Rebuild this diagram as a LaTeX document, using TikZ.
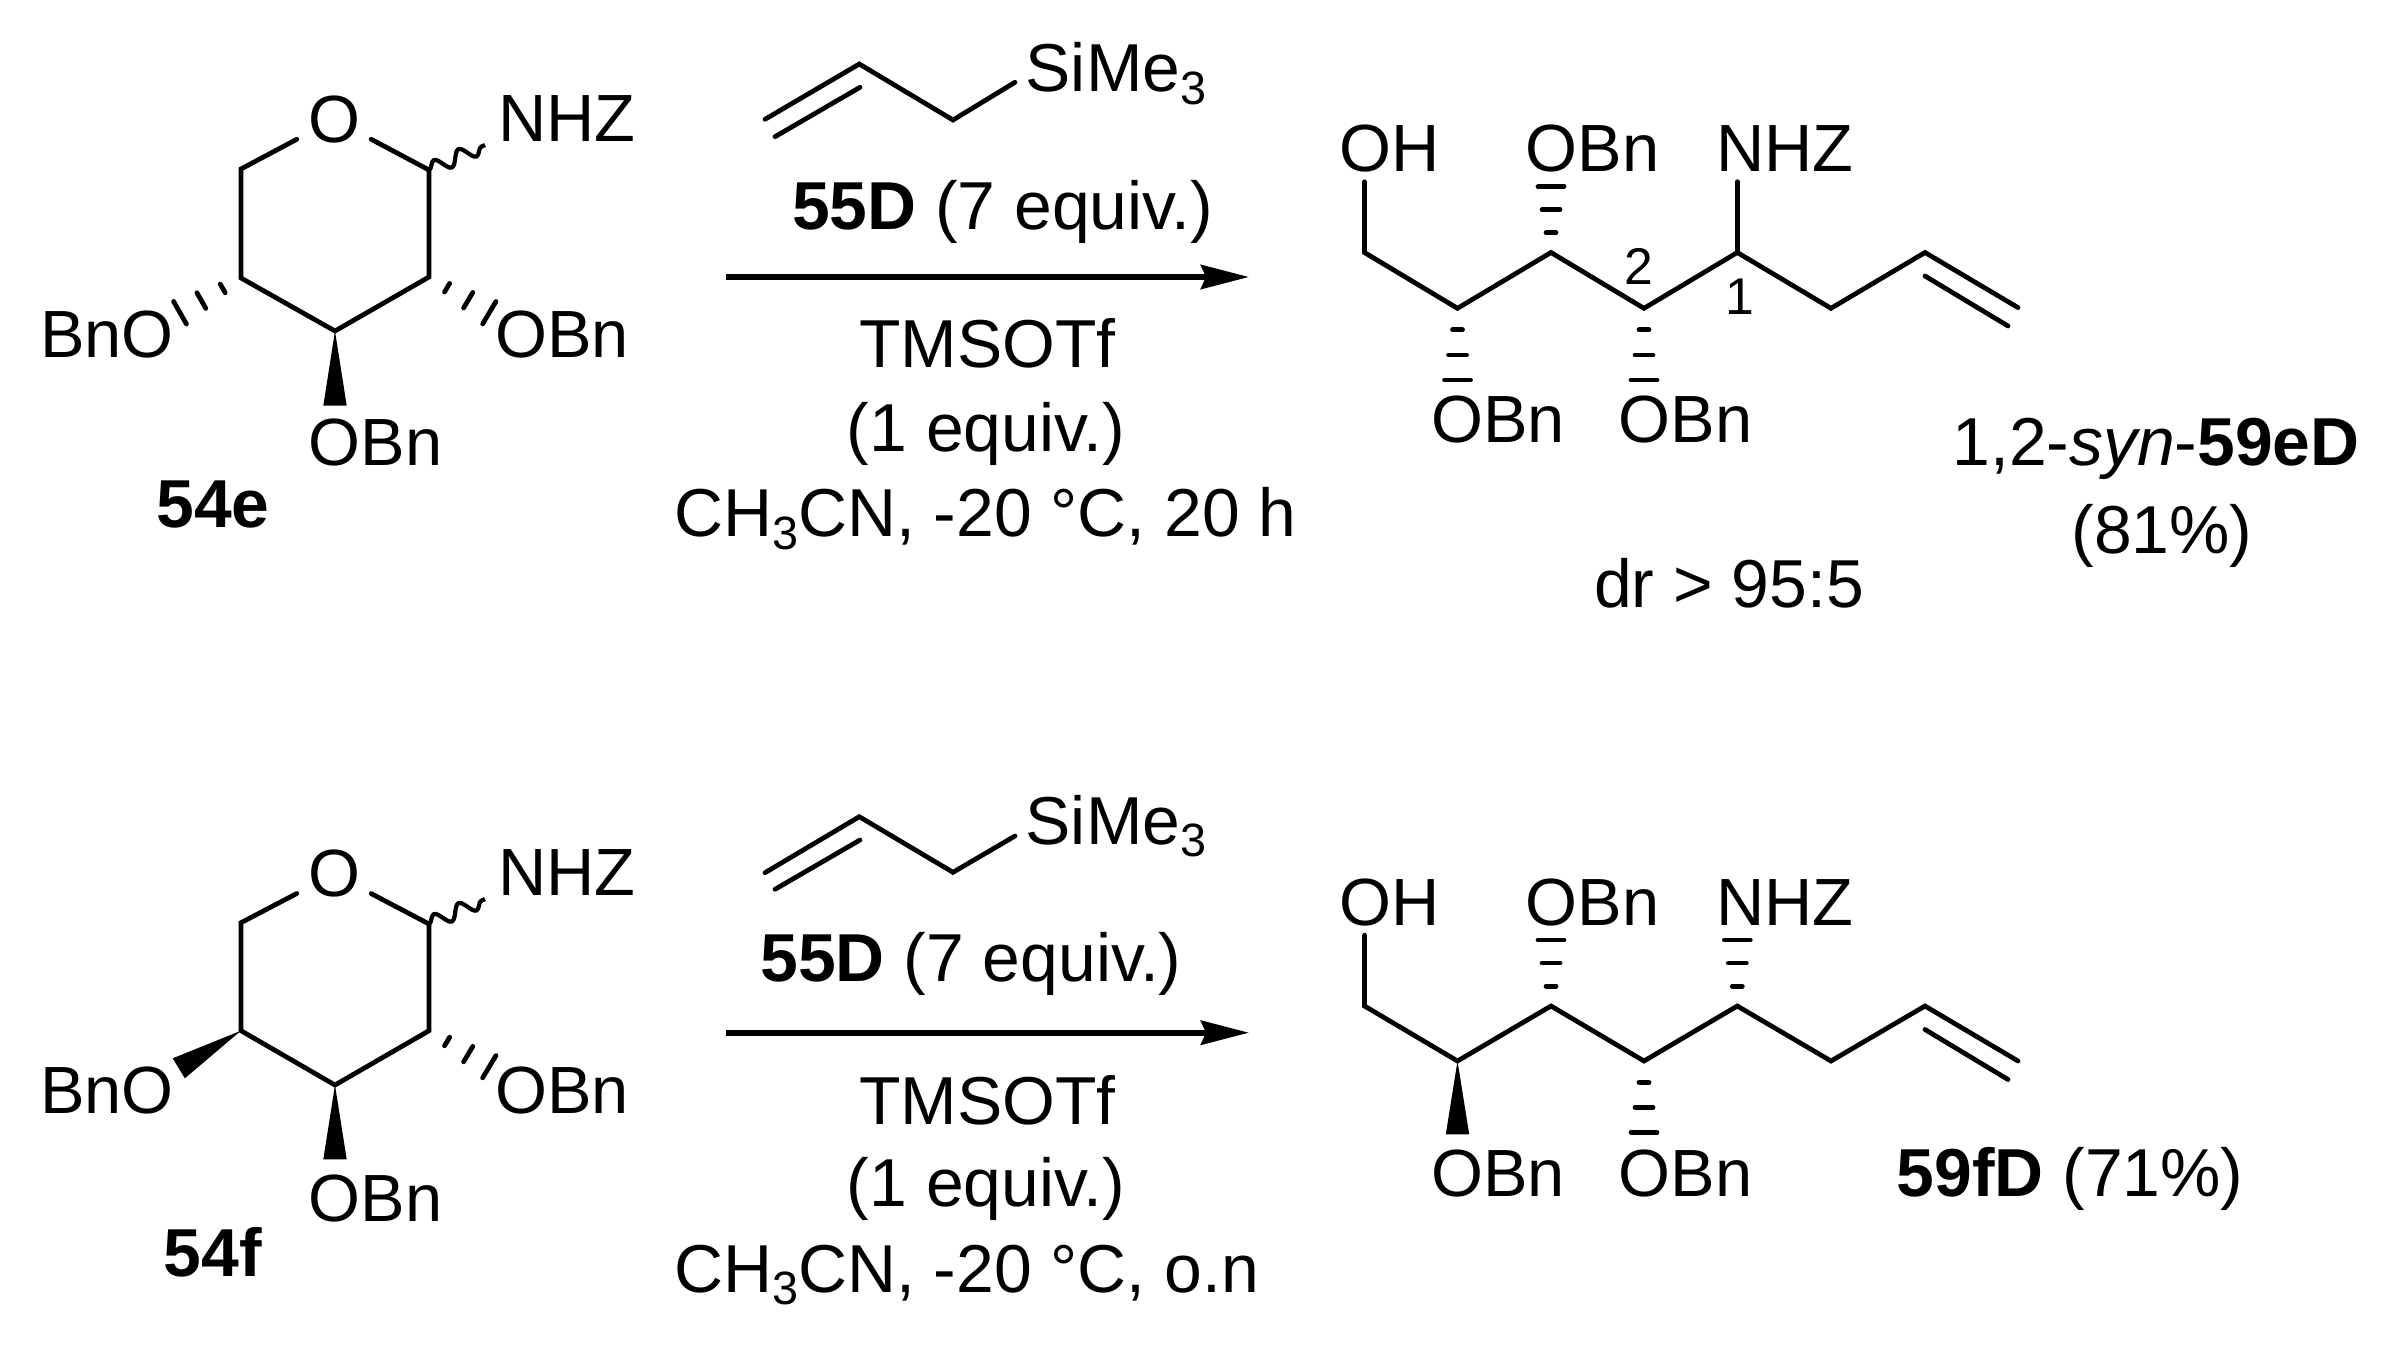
\documentclass[tikz,border=0pt]{standalone}
\usepackage{fontspec}
\setmainfont{Liberation Sans}
\usetikzlibrary{calc,arrows.meta,decorations.pathmorphing}

\tikzset{
  atom/.style={inner sep=0pt,font=\fontsize{19}{22}\selectfont},
  txt/.style={inner sep=0pt,anchor=base,font=\fontsize{19.3}{23}\selectfont},
  cmpd/.style={inner sep=0pt,font=\fontsize{19.3}{23}\selectfont\bfseries},
  num/.style={inner sep=0pt,font=\fontsize{14.7}{16}\selectfont},
  bond/.style={line width=1.35pt,line cap=round,line join=miter},
  hashline/.style={line width=1.35pt,line cap=round},
  wavy/.style={line width=1.2pt,decorate,decoration={snake,amplitude=.07cm,segment length=.27cm}},
  rxnarrow/.style={line width=1.7pt,-{Stealth[length=.48cm,width=.24cm,inset=.05cm]}}
}

\newcommand{\lowered}[1]{\raisebox{-3.5pt}{\fontsize{13.3}{14}\selectfont #1}}
% three strokes, widening from #1 to #2
\newcommand{\hashbond}[2]{
  \draw[hashline] ($(#1)!.3!(#2)!.05cm!90:(#1)$) -- ($(#1)!.3!(#2)!.05cm!-90:(#1)$);
  \draw[hashline] ($(#1)!.65!(#2)!.09cm!90:(#1)$) -- ($(#1)!.65!(#2)!.09cm!-90:(#1)$);
  \draw[hashline] ($(#2)!.13cm!90:(#1)$) -- ($(#2)!.13cm!-90:(#1)$);
}
\newcommand{\wedgebond}[2]{
  \fill (#1) -- ($(#2)!.117cm!90:(#1)$) -- ($(#2)!.117cm!-90:(#1)$) -- cycle;
}

\begin{document}
\begin{tikzpicture}
  \useasboundingbox (0, 0) rectangle (23.9, -13.48);

  % upper sugar
  \node[atom,inner sep=3pt] at (3.34, -1.195) (o1) {O};
  \coordinate (a1) at (4.29, -1.70);
  \coordinate (a2) at (4.29, -2.77);
  \coordinate (a3) at (3.35, -3.31);
  \coordinate (a4) at (2.41, -2.78);
  \coordinate (a5) at (2.41, -1.69);
  \node[atom] at (5.67, -1.185) (nhz1) {NHZ};
  \node[atom] at (5.62, -3.35) (obn1) {OBn};
  \node[atom] at (3.755, -4.43) (obn2) {OBn};
  \node[atom] at (1.07, -3.35) (obn3) {BnO};
  \node[cmpd] at (2.13, -5.04) (s1) {54e};
  \coordinate (w1) at (4.85, -1.45);
  \coordinate (h1) at (4.893, -3.127);
  \coordinate (h2) at (1.80, -3.127);
  \coordinate (w2) at (3.35, -4.057);

  \draw[bond] (o1) -- (a1) -- (a2) -- (a3) -- (a4) -- (a5) -- (o1);
  \draw[wavy] (a1) -- (w1);
  \hashbond{a2}{h1}
  \hashbond{a4}{h2}
  \wedgebond{a3}{w2}

  % upper reagents
  \coordinate (r1) at (7.65, -1.193);
  \coordinate (r1b) at (7.75, -1.367);
  \coordinate (r2) at (8.593, -0.64);
  \coordinate (r2b) at (8.60, -0.873);
  \coordinate (r3) at (9.53, -1.20);
  \coordinate (r4) at (10.15, -0.823);
  \node[txt,anchor=base west] at (10.25, -0.917) (si1) {SiMe\lowered{3}};
  \draw[bond] (r1) -- (r2) -- (r3) -- (r4);
  \draw[bond] (r1b) -- (r2b);
  \node[txt] at (10.025, -2.29) (eq1) {\textbf{55D} (7 equiv.)};
  \coordinate (start1) at (7.26, -2.77);
  \coordinate (end1) at (12.49, -2.77);
  \draw[rxnarrow] (start1) -- (end1);
  \node[txt] at (9.875, -3.673) (tm1) {TMSOTf};
  \node[txt] at (9.858, -4.51) (eq2) {(1 equiv.)};
  \node[txt,anchor=base west] at (6.736, -5.367) (sv1) {CH\lowered{3}CN, -20 °C, 20 h};

  % upper product
  \coordinate (c1) at (13.645, -2.525);
  \coordinate (c2) at (14.575, -3.083);
  \coordinate (c3) at (15.51, -2.525);
  \coordinate (c4) at (16.44, -3.083);
  \coordinate (c5) at (17.373, -2.525);
  \coordinate (c6) at (18.31, -3.083);
  \coordinate (c7) at (19.25, -2.525);
  \coordinate (c8) at (20.18, -3.076);
  \coordinate (c7b) at (19.25, -2.76);
  \coordinate (c8b) at (20.08, -3.26);
  \node[atom] at (13.895, -1.485) (oh1) {OH};
  \node[atom] at (15.925, -1.485) (obn4) {OBn};
  \node[atom] at (17.85, -1.485) (nhz2) {NHZ};
  \node[atom] at (14.98, -4.20) (obn5) {OBn};
  \node[atom] at (16.855, -4.20) (obn6) {OBn};
  \coordinate (t1) at (13.645, -1.817);
  \coordinate (t2) at (15.51, -1.867);
  \coordinate (t3) at (17.373, -1.817);
  \coordinate (t4) at (14.575, -3.80);
  \coordinate (t5) at (16.44, -3.80);
  \draw[bond] (t1) -- (c1) -- (c2) -- (c3) -- (c4) -- (c5) -- (c6) -- (c7) -- (c8);
  \draw[bond] (c7b) -- (c8b);
  \draw[bond] (c5) -- (t3);
  \hashbond{c3}{t2}
  \hashbond{c2}{t4}
  \hashbond{c4}{t5}
  \node[num] at (16.393, -2.66) (n2) {2};
  \node[num] at (17.40, -2.967) (n1) {1};
  \node[txt,anchor=center] at (21.56, -4.49) (p1) {1,2-\textit{syn}-\textbf{59eD}};
  \node[txt,anchor=center] at (21.62, -5.36) (y1) {(81\%)};
  \node[txt,anchor=center] at (17.29, -5.835) (dr1) {dr > 95:5};

  % lower sugar
  \node[atom,inner sep=3pt] at (3.34, -8.74) (o2) {O};
  \coordinate (b1) at (4.29, -9.24);
  \coordinate (b2) at (4.29, -10.307);
  \coordinate (b3) at (3.35, -10.85);
  \coordinate (b4) at (2.41, -10.307);
  \coordinate (b5) at (2.41, -9.227);
  \node[atom] at (5.67, -8.73) (nhz3) {NHZ};
  \node[atom] at (5.62, -10.905) (obn7) {OBn};
  \node[atom] at (3.755, -11.98) (obn8) {OBn};
  \node[atom] at (1.07, -10.905) (obn9) {BnO};
  \node[cmpd] at (2.13, -12.52) (s2) {54f};
  \coordinate (w3) at (4.85, -8.99);
  \coordinate (h3) at (4.893, -10.667);
  \coordinate (w4) at (1.788, -10.683);
  \coordinate (w5) at (3.35, -11.593);

  \draw[bond] (o2) -- (b1) -- (b2) -- (b3) -- (b4) -- (b5) -- (o2);
  \draw[wavy] (b1) -- (w3);
  \hashbond{b2}{h3}
  \wedgebond{b4}{w4}
  \wedgebond{b3}{w5}

  % lower reagents
  \coordinate (q1) at (7.65, -8.727);
  \coordinate (q1b) at (7.75, -8.893);
  \coordinate (q2) at (8.593, -8.167);
  \coordinate (q2b) at (8.60, -8.40);
  \coordinate (q3) at (9.53, -8.723);
  \coordinate (q4) at (10.15, -8.36);
  \node[txt,anchor=base west] at (10.25, -8.443) (si2) {SiMe\lowered{3}};
  \draw[bond] (q1) -- (q2) -- (q3) -- (q4);
  \draw[bond] (q1b) -- (q2b);
  \node[txt] at (9.71, -9.817) (eq3) {\textbf{55D} (7 equiv.)};
  \coordinate (start2) at (7.26, -10.327);
  \coordinate (end2) at (12.49, -10.327);
  \draw[rxnarrow] (start2) -- (end2);
  \node[txt] at (9.875, -11.24) (tm2) {TMSOTf};
  \node[txt] at (9.858, -12.067) (eq4) {(1 equiv.)};
  \node[txt,anchor=base west] at (6.736, -12.924) (sv2) {CH\lowered{3}CN, -20 °C, o.n};

  % lower product
  \coordinate (d1) at (13.645, -10.06);
  \coordinate (d2) at (14.575, -10.61);
  \coordinate (d3) at (15.51, -10.06);
  \coordinate (d4) at (16.44, -10.61);
  \coordinate (d5) at (17.373, -10.06);
  \coordinate (d6) at (18.31, -10.61);
  \coordinate (d7) at (19.25, -10.06);
  \coordinate (d8) at (20.18, -10.61);
  \coordinate (d7b) at (19.25, -10.295);
  \coordinate (d8b) at (20.08, -10.795);
  \node[atom] at (13.895, -9.025) (oh2) {OH};
  \node[atom] at (15.925, -9.025) (obn10) {OBn};
  \node[atom] at (17.85, -9.025) (nhz4) {NHZ};
  \node[atom] at (14.98, -11.73) (obn11) {OBn};
  \node[atom] at (16.855, -11.73) (obn12) {OBn};
  \coordinate (u1) at (13.645, -9.352);
  \coordinate (u2) at (15.51, -9.40);
  \coordinate (u3) at (17.373, -9.40);
  \coordinate (u4) at (14.575, -11.343);
  \coordinate (u5) at (16.44, -11.323);
  \draw[bond] (u1) -- (d1) -- (d2) -- (d3) -- (d4) -- (d5) -- (d6) -- (d7) -- (d8);
  \draw[bond] (d7b) -- (d8b);
  \hashbond{d3}{u2}
  \hashbond{d5}{u3}
  \hashbond{d4}{u5}
  \wedgebond{d2}{u4}
  \node[txt,anchor=center] at (20.70, -11.785) (p2) {\textbf{59fD} (71\%)};
\end{tikzpicture}
\end{document}
